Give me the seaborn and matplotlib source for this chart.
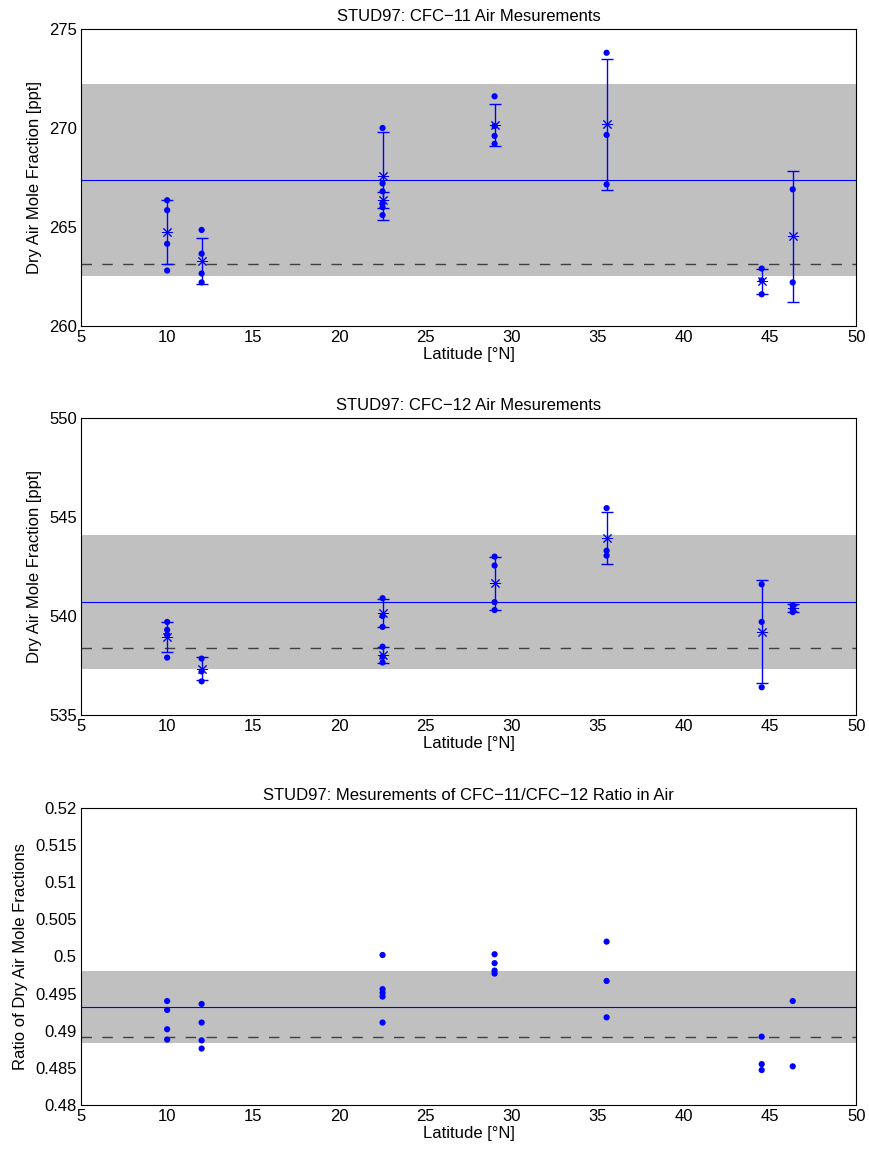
import numpy as np
import pandas as pd
import matplotlib
matplotlib.use("Agg")
import matplotlib.pyplot as plt
from matplotlib.ticker import FuncFormatter
import seaborn as sns

# sample latitudes / values (individual flask samples)
lat_11 = [10, 10, 10, 10, 12, 12, 12, 12, 22.5, 22.5, 22.5, 22.5, 22.5, 22.5,
          29, 29, 29, 29, 35.5, 35.5, 35.5, 44.5, 44.5, 44.5, 46.3, 46.3]
cfc11 = [266.35, 265.85, 264.15, 262.8, 264.85, 263.65, 262.65, 262.2,
         270.0, 267.2, 265.6, 266.8, 266.2, 266.0,
         271.6, 270.1, 269.6, 269.2, 273.8, 269.65, 267.15,
         262.9, 262.3, 261.6, 266.9, 262.2]

lat_12 = [10, 10, 10, 10, 12, 12, 12, 22.5, 22.5, 22.5, 22.5, 22.5, 22.5,
          29, 29, 29, 29, 35.5, 35.5, 35.5, 44.5, 44.5, 44.5, 46.3, 46.3, 46.3]
cfc12 = [539.7, 539.3, 539.05, 537.9, 537.85, 537.2, 536.7,
         540.9, 540.0, 539.45, 538.45, 537.95, 537.65,
         543.0, 542.55, 540.7, 540.3, 545.45, 543.3, 543.05,
         541.6, 539.7, 536.4, 540.55, 540.35, 540.2]

lat_ratio = [10, 10, 10, 10, 12, 12, 12, 12, 22.5, 22.5, 22.5, 22.5, 22.5,
             29, 29, 29, 29, 35.5, 35.5, 35.5, 44.5, 44.5, 44.5, 46.3, 46.3]
ratio = [0.4940, 0.4928, 0.4902, 0.4888, 0.4936, 0.4911, 0.4887, 0.4876,
         0.5002, 0.4956, 0.4951, 0.4946, 0.4911,
         0.5003, 0.4991, 0.4981, 0.4977, 0.5020, 0.4967, 0.4918,
         0.4892, 0.4855, 0.4847, 0.4940, 0.4852]

# station means and 1-sigma
lat_st = [10, 12, 22.5, 22.5, 29, 35.5, 44.5, 46.3]
mean_11 = [264.76, 263.30, 267.57, 266.36, 270.15, 270.18, 262.25, 264.53]
err_11 = [1.61, 1.16, 2.22, 0.40, 1.05, 3.33, 0.65, 3.30]
mean_12 = [538.96, 537.34, 540.16, 538.03, 541.65, 543.95, 539.20, 540.40]
err_12 = [0.76, 0.57, 0.70, 0.38, 1.35, 1.30, 2.60, 0.20]

# overall mean, reference value (dashed) and band
ref_11 = {"mean": 267.35, "dash": 263.15, "lo": 262.5, "hi": 272.2}
ref_12 = {"mean": 540.7, "dash": 538.4, "lo": 537.33, "hi": 544.07}
ref_ratio = {"mean": 0.4932, "dash": 0.4892, "lo": 0.4884, "hi": 0.4980}

sns.set_style("white")
plt.rcParams['font.family'] = ['Liberation Sans', 'DejaVu Sans']
plt.rcParams['font.size'] = 12
for key in ['text.color', 'axes.labelcolor', 'xtick.color', 'ytick.color']:
    plt.rcParams[key] = 'black'

fig = plt.figure(figsize=(8.69, 11.51), dpi=100)
left, width, height = 0.0932, 0.8924, 0.258
bottoms = [0.7168, 0.3788, 0.040]


def draw_panel(ax, lats, vals, ref, title, ylabel, ylim, yticks, st_mean=None, st_err=None):
    ax.axhspan(ref["lo"], ref["hi"], color='#c0c0c0', lw=0, zorder=0)
    ax.axhline(ref["mean"], color='blue', lw=0.8, zorder=1)
    ax.axhline(ref["dash"], color='#404040', lw=1.0, ls=(0, (7.5, 7.5)), zorder=1)
    df = pd.DataFrame({"lat": lats, "val": vals})
    sns.scatterplot(data=df, x="lat", y="val", color='blue', s=20,
                    edgecolor='none', ax=ax, zorder=3)
    if st_mean is not None:
        ax.errorbar(lat_st, st_mean, yerr=st_err, fmt='none', ecolor='blue',
                    elinewidth=1.0, capsize=4.6, capthick=1.0, zorder=2)
        ax.plot(lat_st, st_mean, ls='none', marker=(8, 2, 0), ms=8,
                mec='blue', mew=0.7, zorder=4)
    ax.set_xlim(5, 50)
    ax.set_ylim(*ylim)
    ax.set_xticks(range(5, 51, 5))
    ax.set_yticks(yticks)
    ax.yaxis.set_major_formatter(FuncFormatter(lambda v, p: '%g' % round(v, 4)))
    ax.set_title(title, fontsize=12, pad=6)
    ax.set_xlabel('Latitude [°N]', labelpad=1)
    ax.set_ylabel(ylabel, labelpad=5)
    ax.tick_params(direction='in', length=5.5, width=0.6, labelsize=12, pad=3,
                   colors='black')
    for s in ax.spines.values():
        s.set_color('black')
        s.set_linewidth(0.8)
        s.set_visible(True)


ax1 = fig.add_axes([left, bottoms[0], width, height])
draw_panel(ax1, lat_11, cfc11, ref_11, 'STUD97: CFC\u221211 Air Mesurements',
           'Dry Air Mole Fraction [ppt]', (260, 275), range(260, 276, 5), mean_11, err_11)

ax2 = fig.add_axes([left, bottoms[1], width, height])
draw_panel(ax2, lat_12, cfc12, ref_12, 'STUD97: CFC\u221212 Air Mesurements',
           'Dry Air Mole Fraction [ppt]', (535, 550), range(535, 551, 5), mean_12, err_12)

ax3 = fig.add_axes([left, bottoms[2], width, height])
draw_panel(ax3, lat_ratio, ratio, ref_ratio,
           'STUD97: Mesurements of CFC\u221211/CFC\u221212 Ratio in Air',
           'Ratio of Dry Air Mole Fractions', (0.48, 0.52), np.arange(0.48, 0.5201, 0.005))

fig.savefig('out.png', dpi=100)
